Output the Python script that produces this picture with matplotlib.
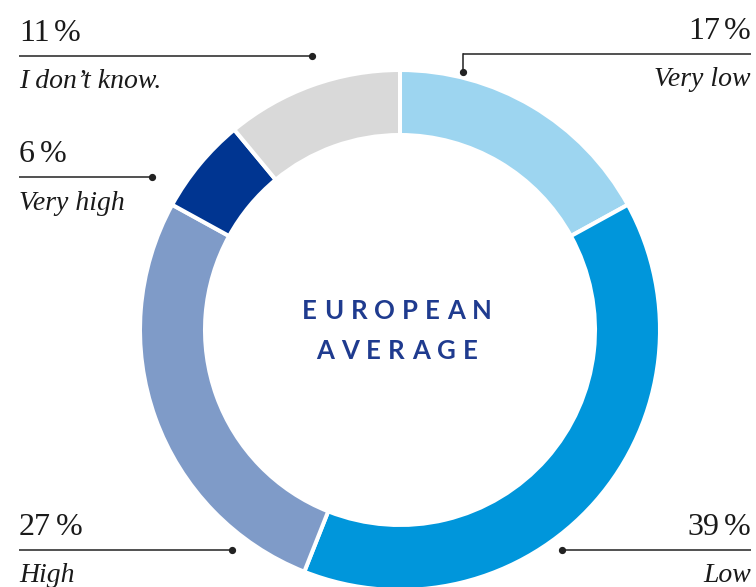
import matplotlib
matplotlib.use("Agg")
import matplotlib.pyplot as plt

# Survey answers, clockwise from 12 o'clock
categories = ["Very low", "Low", "High", "Very high", "I don\u2019t know."]
shares = [17, 39, 27, 6, 11]
colors = ["#9dd5f0", "#0096db", "#7f9bc8", "#003591", "#d9d9d9"]
center_title = ["EUROPEAN", "AVERAGE"]

W, H = 756, 587
fig = plt.figure(figsize=(W / 100, H / 100), dpi=100)
ax = fig.add_axes([0, 0, 1, 1])

cx, cy = 400, H - 330
outer_r, ring_w = 260, 65
ax.pie(shares, colors=colors, startangle=90, counterclock=False,
       center=(cx, cy), radius=outer_r,
       wedgeprops=dict(width=ring_w, edgecolor="white", linewidth=2.9),
       frame=True)
ax.set_xlim(0, W)
ax.set_ylim(0, H)
ax.set_aspect("equal")
ax.axis("off")

fig.canvas.draw()
renderer = fig.canvas.get_renderer()

serif = "Liberation Serif"
ink = "#1a1a1a"
line_c = "#222222"
num_font = dict(fontsize=23, family=serif, color=ink)
pct_gap = 4.5

def text_width(s, **kw):
    t = ax.text(0, 0, s, **kw)
    w = t.get_window_extent(renderer).width
    t.remove()
    return w

def label(value, name, y_line, x0, x1, dot, align, elbow=None):
    """Value above a leader line, category name in italics below it."""
    ax.plot([x0, x1], [H - y_line, H - y_line], color=line_c, lw=1.1,
            solid_capstyle="butt")
    if elbow is not None:
        ax.plot([dot[0], dot[0]], [H - y_line, H - dot[1]], color=line_c,
                lw=1.1)
    ax.plot([dot[0]], [H - dot[1]], "o", ms=4.2, color=line_c)
    yb = H - y_line + 15
    num = str(value)
    wn = text_width(num, **num_font)
    wp = text_width("%", **num_font)
    if align == "left":
        xn = x0
    else:
        xn = x1 - wp - pct_gap - wn
    ax.text(xn, yb, num, ha="left", va="baseline", **num_font)
    ax.text(xn + wn + pct_gap, yb, "%", ha="left", va="baseline", **num_font)
    tx = x0 if align == "left" else x1
    ax.text(tx, H - y_line - 26, name, ha=align, va="center",
            fontsize=20, family=serif, style="italic", color=ink)

label(shares[4], categories[4], 56, 19, 312, (312, 56), "left")
label(shares[0], categories[0], 54, 463, 751, (463, 72), "right", elbow=True)
label(shares[3], categories[3], 177, 19, 152, (152, 177), "left")
label(shares[2], categories[2], 550, 19, 232, (232, 550), "left")
label(shares[1], categories[1], 550, 562, 751, (562, 550), "right")

# Letter-spaced title in the middle of the ring
title_font = dict(family="Lato", fontweight="bold", fontsize=18.5,
                  color="#1f3b8f")
tracking = 7.0
title_cx = 397
for word, yc in zip(center_title, [311, 351]):
    widths = [text_width(ch, **title_font) for ch in word]
    total = sum(widths) + tracking * (len(word) - 1)
    x = title_cx - total / 2
    for ch, w in zip(word, widths):
        ax.text(x, H - yc, ch, ha="left", va="center", **title_font)
        x += w + tracking

fig.savefig("out.png", dpi=100, facecolor="white")
